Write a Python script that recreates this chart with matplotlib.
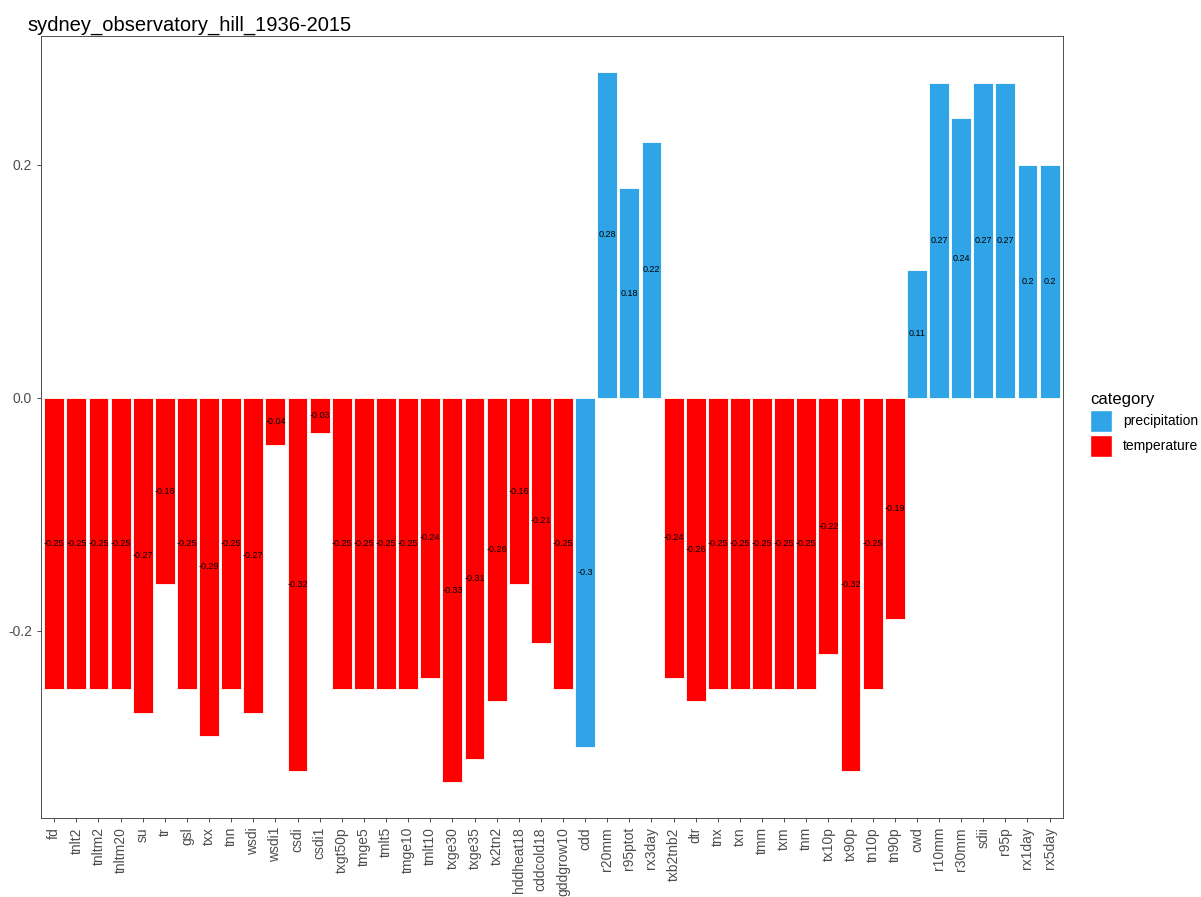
import matplotlib.pyplot as plt
from matplotlib.patches import Patch
import numpy as np

plt.rcParams['font.family'] = ['Liberation Sans', 'DejaVu Sans']

indices = ["fd", "tnlt2", "tnltm2", "tnltm20", "su", "tr", "gsl", "txx", "tnn", "wsdi",
           "wsdi1", "csdi", "csdi1", "txgt50p", "tmge5", "tmlt5", "tmge10", "tmlt10",
           "txge30", "txge35", "tx2tn2", "hddheat18", "cddcold18", "gddgrow10", "cdd",
           "r20mm", "r95ptot", "rx3day", "txb2tnb2", "dtr", "tnx", "txn", "tmm", "txm",
           "tnm", "tx10p", "tx90p", "tn10p", "tn90p", "cwd", "r10mm", "r30mm", "sdii",
           "r95p", "rx1day", "rx5day"]
corr = [-0.25, -0.25, -0.25, -0.25, -0.27, -0.16, -0.25, -0.29, -0.25, -0.27,
        -0.04, -0.32, -0.03, -0.25, -0.25, -0.25, -0.25, -0.24,
        -0.33, -0.31, -0.26, -0.16, -0.21, -0.25, -0.3,
        0.28, 0.18, 0.22, -0.24, -0.26, -0.25, -0.25, -0.25, -0.25,
        -0.25, -0.22, -0.32, -0.25, -0.19, 0.11, 0.27, 0.24, 0.27,
        0.27, 0.2, 0.2]
category = ["temperature"] * 24 + ["precipitation"] * 4 + ["temperature"] * 11 + ["precipitation"] * 7

colours = {"precipitation": "#2FA4E7", "temperature": "#FF0000"}

fig = plt.figure(figsize=(12.01, 8.97), dpi=100)
ax = fig.add_axes([0.0341, 0.0881, 0.8509, 0.8718])

x = np.arange(1, len(indices) + 1)
ax.bar(x, corr, width=0.9, color=[colours[c] for c in category],
       edgecolor="white", linewidth=0.6)

# value labels sit halfway up each bar
for xi, v in zip(x, corr):
    ax.text(xi, v / 2, f"{v:g}", ha="center", va="center", fontsize=6.5, color="black")

ax.set_xlim(0.4, len(indices) + 0.6)
ax.set_ylim(-0.3605, 0.3107)
ax.set_xticks(x)
ax.set_xticklabels(indices, rotation=90, fontsize=10, color="#4D4D4D")
ax.set_yticks([-0.2, 0.0, 0.2])
ax.set_yticklabels(["-0.2", "0.0", "0.2"], fontsize=10, color="#4D4D4D")
ax.tick_params(length=3, color="#333333", width=0.6)
for s in ax.spines.values():
    s.set_color("#333333")
    s.set_linewidth(0.6)

fig.text(0.023, 0.982, "sydney_observatory_hill_1936-2015", fontsize=14.5, va="top", ha="left")

handles = [Patch(facecolor=colours[k], edgecolor="white", label=k)
           for k in ["precipitation", "temperature"]]
leg = fig.legend(handles=handles, title="category", loc="center left",
                 bbox_to_anchor=(0.897, 0.527), frameon=False, fontsize=10,
                 title_fontsize=12, handlelength=1.6, handleheight=2.0,
                 handletextpad=0.8, labelspacing=0.25)
leg._legend_box.align = "left"

fig.savefig("out.png", dpi=100)
